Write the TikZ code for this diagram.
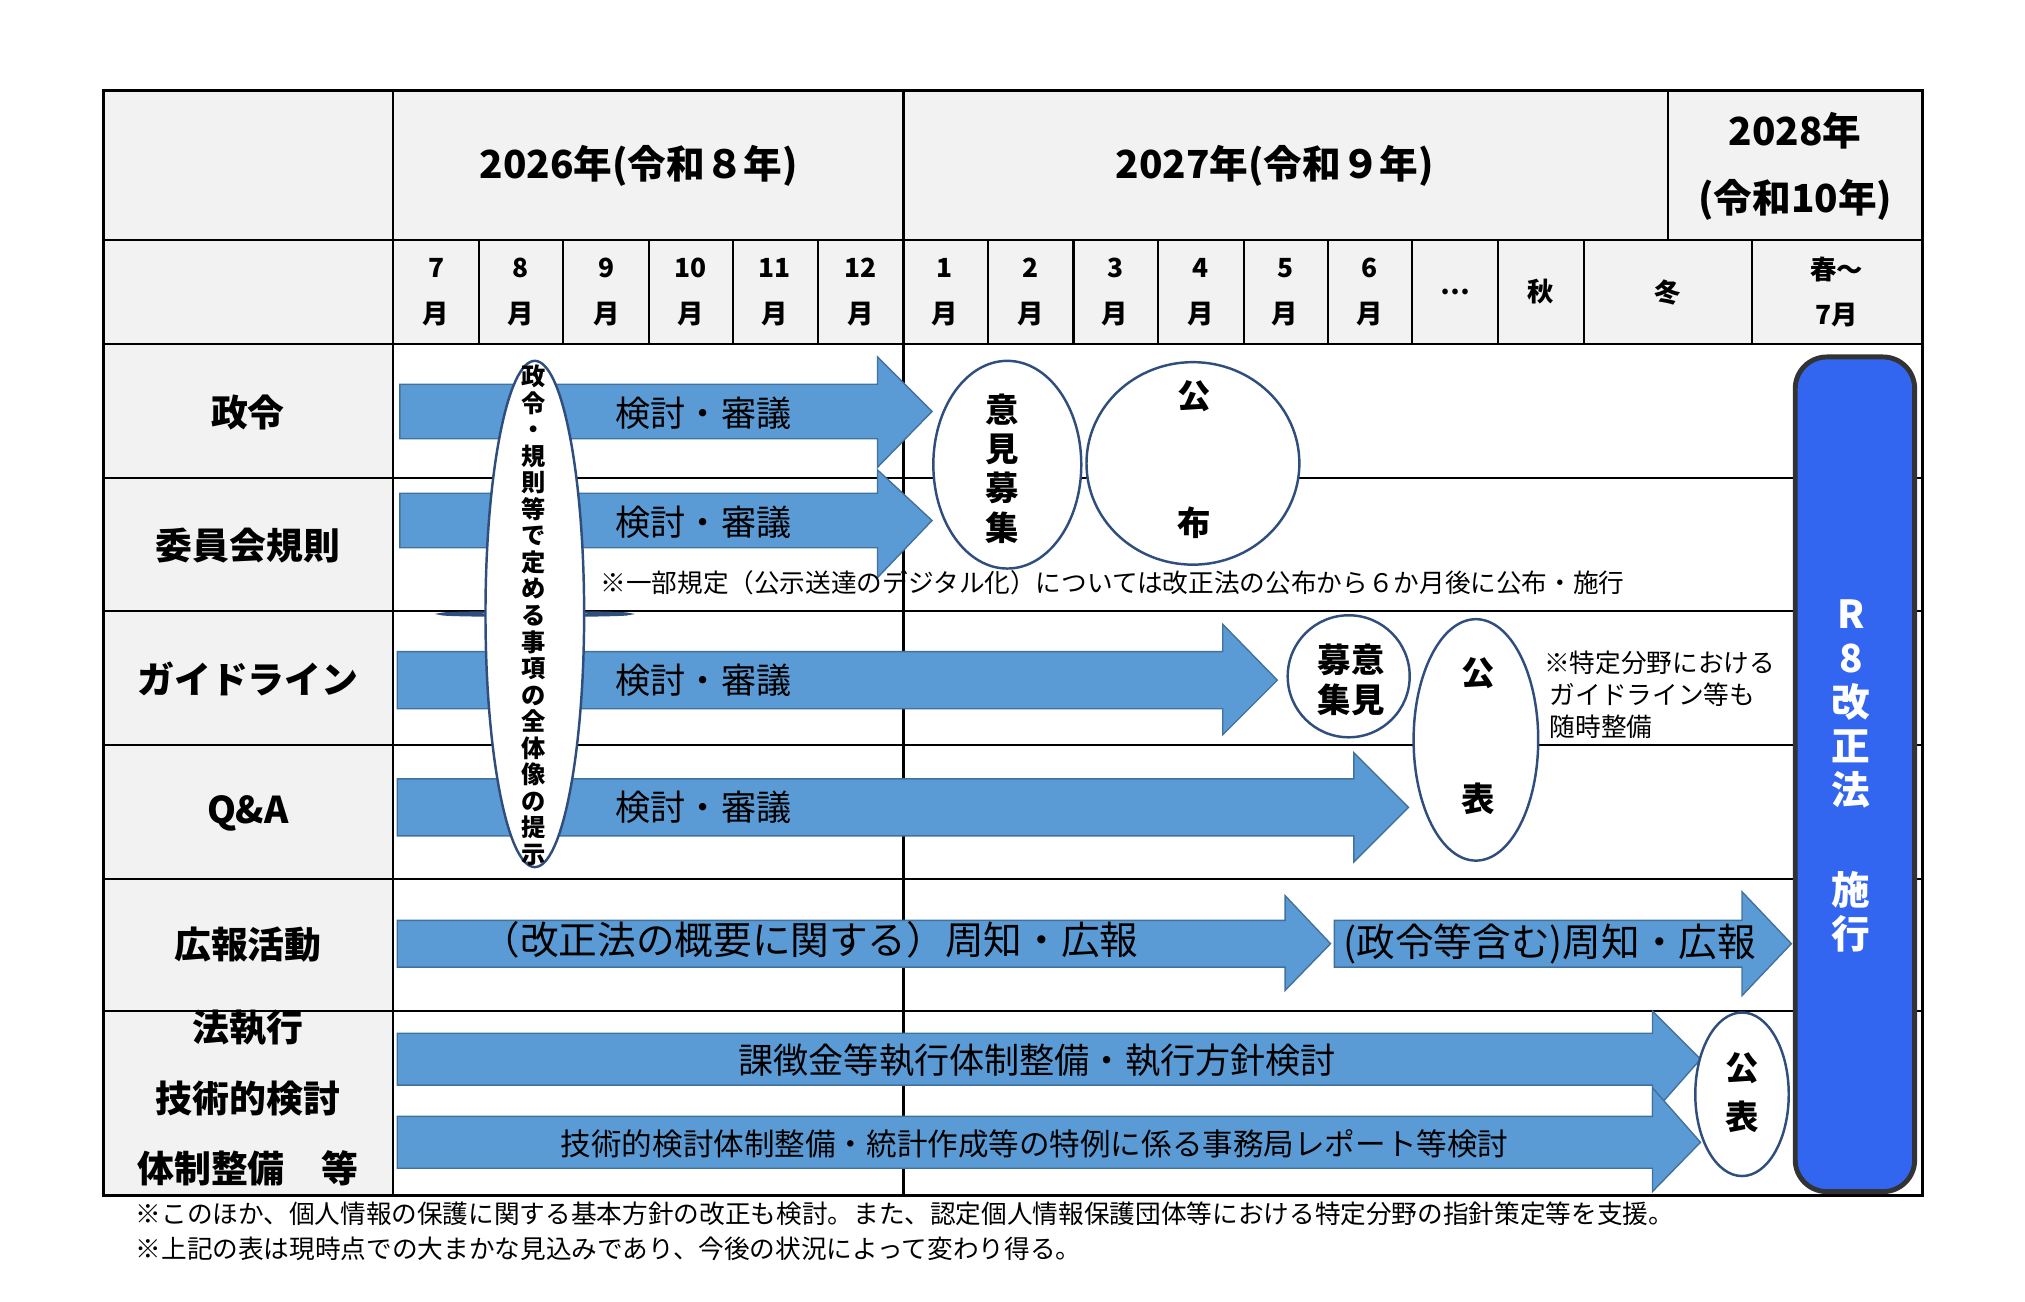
\documentclass[tikz,border=0pt]{standalone}
\usepackage{fontspec}
\setmainfont{Noto Sans CJK JP}
\usetikzlibrary{shapes.arrows,shapes.geometric}
\definecolor{hdrgray}{HTML}{F2F2F2}
\definecolor{arrblue}{HTML}{5B9BD5}
\definecolor{arredge}{HTML}{41719C}
\definecolor{lawblue}{HTML}{3366F0}
\definecolor{ovaledge}{HTML}{2F4E7E}
\tikzset{
  hdr/.style={font=\bfseries\fontsize{11}{14}\selectfont},
  mon/.style={font=\bfseries\fontsize{7.5}{13}\selectfont,align=center},
  rowlab/.style={font=\bfseries\fontsize{10.5}{15}\selectfont,align=center},
  arrtxt/.style={font=\fontsize{10}{12}\selectfont},
  oval/.style={draw=ovaledge,fill=white,line width=0.7pt},
  note/.style={font=\fontsize{7.3}{10}\selectfont,align=left},
}
% block arrow: x0, x1, head start, body top, body bottom, head top, head bottom
\newcommand{\blockarrow}[7]{%
  \draw[fill=arrblue,draw=arredge,line width=0.4pt]
    (#1,#4) -- (#3,#4) -- (#3,#6) -- (#2,{(#4+#5)/2}) -- (#3,#7) -- (#3,#5) -- (#1,#5) -- cycle;}
\begin{document}
\begin{tikzpicture}[x=0.012981cm,y=-0.012981cm]
\useasboundingbox (0,0) rectangle (1560,1003);
% grey header parts
\fill[hdrgray] (80,70) rectangle (1481,265);
\fill[hdrgray] (80,265) rectangle (303,921);
% table lines
\draw[line width=0.8pt] (80,70) rectangle (1481,921);
\foreach \yy in {185,265,368,471,574,677,779}
  \draw[line width=0.6pt] (80,\yy) -- (1481,\yy);
\draw[line width=0.6pt] (303,70) -- (303,921);
\draw[line width=0.6pt] (696,70) -- (696,921);
\draw[line width=0.6pt] (1285,70) -- (1285,185);
\foreach \xx in {369,434,500,565,630,761,827,892,958,1023,1088,1154,1220,1350}
  \draw[line width=0.6pt] (\xx,185) -- (\xx,265);
% year headers
\node[hdr] (y2026) at (492,128) {2026年(令和８年)};
\node[hdr] (y2027) at (982,128) {2027年(令和９年)};
\node[hdr,align=center,font=\bfseries\fontsize{11}{19}\selectfont] (y2028) at (1383,128) {2028年\\(令和10年)};
% months
\foreach \xc/\mm in {336/7,401/8,467/9,532/10,597/11,663/12,728/1,794/2,859/3,925/4,990/5,1055/6}
  \node[mon] at (\xc,225) {\mm\\月};
\node[mon] (dots) at (1121,225) {…};
\node[mon] (aki) at (1187,225) {秋};
\node[mon] (fuyu) at (1285,225) {冬};
\node[mon] (haru) at (1415,225) {春～\\7月};
% row labels
\node[rowlab] (r1) at (191,318) {政令};
\node[rowlab] (r2) at (191,420) {委員会規則};
\node[rowlab] (r3) at (191,523) {ガイドライン};
\node[rowlab] (r4) at (191,627) {Q\&A};
\node[rowlab] (r5) at (191,728) {広報活動};
\node[rowlab,font=\bfseries\fontsize{10.5}{20}\selectfont] (r6) at (191,846) {法執行\\技術的検討\\体制整備\quad 等};
% arrows
\blockarrow{308}{718}{676}{296}{338}{275}{360}
\blockarrow{308}{718}{676}{380}{422}{362}{445}
\blockarrow{306}{984}{942}{502}{546}{481}{566}
\blockarrow{306}{1085}{1043}{600}{644}{580}{664}
\blockarrow{306}{1025}{990}{709}{745}{690}{763}
\blockarrow{1028}{1380}{1342}{709}{745}{687}{767}
\blockarrow{306}{1310}{1273}{796}{836}{779}{858}
\blockarrow{306}{1310}{1273}{860}{900}{838}{918}
\foreach \yy in {318,402,524,622}
  \node[arrtxt] at (542,\yy) {検討・審議};
\node[arrtxt,font=\fontsize{11}{12}\selectfont] (pr1) at (624,724) {（改正法の概要に関する）周知・広報};
\node[arrtxt,font=\fontsize{11}{12}\selectfont] (pr2) at (1194,727) {(政令等含む)周知・広報};
\node[arrtxt] (enf1) at (799,817) {課徴金等執行体制整備・執行方針検討};
\node[arrtxt,font=\fontsize{8.7}{10}\selectfont] (enf2) at (797,881) {技術的検討体制整備・統計作成等の特例に係る事務局レポート等検討};
% ovals
\node[oval,ellipse,minimum width=76\pgflinewidth,inner sep=0pt] (big) at (412,473) {};
\draw[oval] (412,473) ellipse [x radius=38,y radius=195];
\node[font=\bfseries\fontsize{6.9}{7.55}\selectfont,align=center] (bigtxt) at (411,474)
  {政\\令\\・\\規\\則\\等\\で\\定\\め\\る\\事\\項\\の\\全\\体\\像\\の\\提\\示};
\draw[oval] (776,358) ellipse [x radius=57,y radius=80];
\node[font=\bfseries\fontsize{9.5}{11.2}\selectfont,align=center] (iken1) at (772,361) {意\\見\\募\\集};
\draw[oval] (919,357) ellipse [x radius=82,y radius=78];
\node[font=\bfseries\fontsize{9.5}{36}\selectfont,align=center] (kofu) at (920,354) {公\\布};
\draw[oval] (1039,521) circle [radius=47];
\node[font=\bfseries\fontsize{9.5}{11.5}\selectfont,align=center] (iken2) at (1041,524) {募意\\集見};
\draw[oval] (1137,570) ellipse [x radius=48,y radius=93];
\node[font=\bfseries\fontsize{9.5}{36}\selectfont,align=center] (kohyo1) at (1139,567) {公\\表};
\draw[oval] (1342,843) ellipse [x radius=36,y radius=63];
\node[font=\bfseries\fontsize{9.5}{14}\selectfont,align=center] (kohyo2) at (1342,842) {公\\表};
% notes
\node[note,anchor=west] (n1) at (453,449) {※一部規定（公示送達のデジタル化）については改正法の公布から６か月後に公布・施行};
\node[note,anchor=north west,font=\fontsize{7.3}{9.1}\selectfont] (n2) at (1180,492) {※特定分野における\\\ ガイドライン等も\\\ 随時整備};
% law in force
\draw[rounded corners=9pt,fill=lawblue,draw=black!80,line width=1.4pt] (1383,275) rectangle (1475,918);
\node[text=white,font=\bfseries\fontsize{11}{12.5}\selectfont,align=center] (law) at (1426,598) {R\\8\\改\\正\\法\\[16pt]施\\行};
% footnotes
\node[note,anchor=west] (f1) at (95,935) {※このほか、個人情報の保護に関する基本方針の改正も検討。また、認定個人情報保護団体等における特定分野の指針策定等を支援。};
\node[note,anchor=west] (f2) at (95,962) {※上記の表は現時点での大まかな見込みであり、今後の状況によって変わり得る。};
\end{tikzpicture}
\end{document}
